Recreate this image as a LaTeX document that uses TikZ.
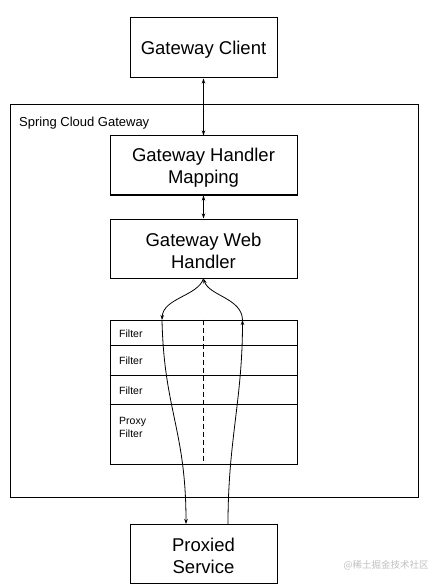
\documentclass[tikz,border=0pt]{standalone}
\usepackage{fontspec}
\setmainfont{Liberation Sans}
\newfontfamily\cjkfont{Noto Sans CJK SC}
\usetikzlibrary{arrows.meta}
\tikzset{
  box/.style={draw, line width=1pt, inner sep=0pt},
  boxtxt/.style={inner sep=0pt, align=center, font=\fontsize{18.5}{22.2}\selectfont},
  lbl/.style={inner sep=0pt, anchor=west, align=left, font=\fontsize{10.5}{13}\selectfont},
  arr/.style={line width=0.8pt, -{Stealth[length=5pt,width=3.5pt]}},
  darr/.style={line width=0.8pt, {Stealth[length=5pt,width=3.5pt]}-{Stealth[length=5pt,width=3.5pt]}},
  rule/.style={line width=1pt}
}
\begin{document}
\begin{tikzpicture}[x=1pt,y=-1pt]
\useasboundingbox (0,0) rectangle (441,585);
% outer container
\node[draw, line width=1pt, minimum width=408pt, minimum height=392pt, inner sep=0pt] (scg) at (214,301) {};
\node[inner sep=0pt, anchor=west, font=\fontsize{13}{15}\selectfont] (scglbl) at (19,123.5) {Spring Cloud Gateway};
% boxes
\node[box, minimum width=147pt, minimum height=60pt] (client) at (203.5,48) {};
\node[boxtxt] (clienttxt) at ([yshift=-2pt]client.center) {Gateway Client};
\node[box, minimum width=187pt, minimum height=59pt] (map) at (203.5,165.5) {};
\node[boxtxt] (maptxt) at ([yshift=-2pt]map.center) {Gateway Handler\\Mapping};
\node[box, minimum width=187pt, minimum height=59pt] (wh) at (203.5,248.5) {};
\node[boxtxt] (whtxt) at ([yshift=-2pt]wh.center) {Gateway Web\\Handler};
\node[box, minimum width=147pt, minimum height=59pt] (prox) at (203.5,553.5) {};
\node[boxtxt] (proxtxt) at ([yshift=-2pt]prox.center) {Proxied\\Service};
% filter table
\node[draw, line width=1pt, minimum width=187pt, minimum height=144pt, inner sep=0pt] (filters) at (203.5,392) {};
\draw[rule] (filters.west |- 0,345.5) -- (filters.east |- 0,345.5);
\draw[rule] (filters.west |- 0,375) -- (filters.east |- 0,375);
\draw[rule] (filters.west |- 0,404) -- (filters.east |- 0,404);
\draw[line width=1pt, dash pattern=on 5pt off 3pt] (filters.north) -- (filters.south);
\node[lbl] (f1) at (119,334) {Filter};
\node[lbl] (f2) at (119,361) {Filter};
\node[lbl] (f3) at (119,391) {Filter};
\node[lbl] (f4) at (119,427) {Proxy\\Filter};
% connectors
\draw[darr] (client) -- (map);
\draw[darr] (map) -- (wh);
\coordinate (lt) at (162,320);
\coordinate (rt) at (242.5,320);
\coordinate (pl) at (186,524);
\coordinate (pr) at (228,524);
\draw[arr] (wh.south) .. controls (198,296) and (163,298) .. (lt);
\draw[arr] (lt) .. controls (164,410) and (186,430) .. (pl);
\draw[arr] (pr) .. controls (228,440) and (242.5,400) .. (rt);
\draw[arr] (rt) .. controls (242,298) and (209,296) .. (wh.south);
% watermark
\node[inner sep=0pt, text=black!25, font=\cjkfont\fontsize{9.5}{11}\selectfont] (wm) at (386,565) {@稀土掘金技术社区};
\end{tikzpicture}
\end{document}
